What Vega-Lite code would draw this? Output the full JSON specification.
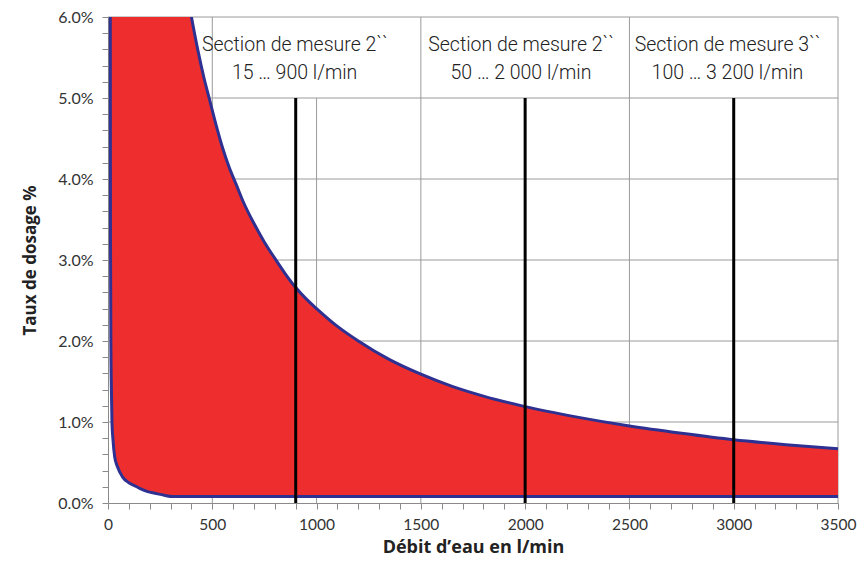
{
  "$schema": "https://vega.github.io/schema/vega-lite/v6.json",
  "width": 730,
  "height": 486,
  "autosize": {"type": "none"},
  "padding": {"left": 108, "top": 17, "right": 25, "bottom": 78},
  "background": "white",
  "config": {"view": {"stroke": null}, "axis": {"labelOverlap": false, "labelFlush": false}},
  "datasets": {
    "band": [
      {"x": 11, "hi": 6, "lo": 6},
      {"x": 12, "hi": 6, "lo": 3.2},
      {"x": 14, "hi": 6, "lo": 1.9},
      {"x": 16, "hi": 6, "lo": 1.45},
      {"x": 19, "hi": 6, "lo": 1.0},
      {"x": 24, "hi": 6, "lo": 0.78},
      {"x": 32, "hi": 6, "lo": 0.57},
      {"x": 45, "hi": 6, "lo": 0.45},
      {"x": 70, "hi": 6, "lo": 0.32},
      {"x": 100, "hi": 6, "lo": 0.25},
      {"x": 138, "hi": 6, "lo": 0.2},
      {"x": 152, "hi": 6, "lo": 0.18},
      {"x": 190, "hi": 6, "lo": 0.14},
      {"x": 225, "hi": 6, "lo": 0.12},
      {"x": 270, "hi": 6, "lo": 0.095},
      {"x": 310, "hi": 6, "lo": 0.08},
      {"x": 360, "hi": 6, "lo": 0.08},
      {"x": 400, "hi": 6, "lo": 0.08},
      {"x": 430, "hi": 5.6, "lo": 0.08},
      {"x": 460, "hi": 5.25, "lo": 0.08},
      {"x": 490, "hi": 4.95, "lo": 0.08},
      {"x": 520, "hi": 4.65, "lo": 0.08},
      {"x": 550, "hi": 4.38, "lo": 0.08},
      {"x": 580, "hi": 4.15, "lo": 0.08},
      {"x": 615, "hi": 3.93, "lo": 0.08},
      {"x": 650, "hi": 3.71, "lo": 0.08},
      {"x": 700, "hi": 3.45, "lo": 0.08},
      {"x": 750, "hi": 3.22, "lo": 0.08},
      {"x": 800, "hi": 3.02, "lo": 0.08},
      {"x": 850, "hi": 2.83, "lo": 0.08},
      {"x": 900, "hi": 2.66, "lo": 0.08},
      {"x": 950, "hi": 2.52, "lo": 0.08},
      {"x": 1000, "hi": 2.4, "lo": 0.08},
      {"x": 1100, "hi": 2.18, "lo": 0.08},
      {"x": 1200, "hi": 2.0, "lo": 0.08},
      {"x": 1350, "hi": 1.77, "lo": 0.08},
      {"x": 1500, "hi": 1.59, "lo": 0.08},
      {"x": 1650, "hi": 1.44, "lo": 0.08},
      {"x": 1800, "hi": 1.32, "lo": 0.08},
      {"x": 2000, "hi": 1.19, "lo": 0.08},
      {"x": 2250, "hi": 1.06, "lo": 0.08},
      {"x": 2500, "hi": 0.95, "lo": 0.08},
      {"x": 2750, "hi": 0.86, "lo": 0.08},
      {"x": 3000, "hi": 0.78, "lo": 0.08},
      {"x": 3250, "hi": 0.72, "lo": 0.08},
      {"x": 3500, "hi": 0.67, "lo": 0.08}
    ],
    "vgrid": [
      {"gx": 500, "bottom": 0, "top": 6},
      {"gx": 1000, "bottom": 0, "top": 5},
      {"gx": 1500, "bottom": 0, "top": 6},
      {"gx": 2000, "bottom": 0, "top": 5},
      {"gx": 2500, "bottom": 0, "top": 6},
      {"gx": 3000, "bottom": 0, "top": 5},
      {"gx": 3500, "bottom": 0, "top": 6}
    ],
    "hgrid": [
      {"gy": 1, "left": 0, "right": 3500},
      {"gy": 2, "left": 0, "right": 3500},
      {"gy": 3, "left": 0, "right": 3500},
      {"gy": 4, "left": 0, "right": 3500},
      {"gy": 5, "left": 0, "right": 3500},
      {"gy": 6, "left": 0, "right": 3500}
    ],
    "marks": [
      {"v": 900, "from": 0, "to": 5},
      {"v": 2000, "from": 0, "to": 5},
      {"v": 3000, "from": 0, "to": 5}
    ],
    "labels": [
      {"tx": 895, "ty": 5.65, "label": "Section de mesure 2``"},
      {"tx": 895, "ty": 5.31, "label": "15 … 900 l/min"},
      {"tx": 1980, "ty": 5.65, "label": "Section de mesure 2``"},
      {"tx": 1980, "ty": 5.31, "label": "50 … 2 000 l/min"},
      {"tx": 2970, "ty": 5.65, "label": "Section de mesure 3``"},
      {"tx": 2970, "ty": 5.31, "label": "100 … 3 200 l/min"}
    ]
  },
  "layer": [
    {
      "data": {"name": "vgrid"},
      "mark": {"type": "rule", "color": "#9a9a9a", "strokeWidth": 1},
      "encoding": {
        "x": {"field": "gx", "type": "quantitative", "scale": {"domain": [0, 3500], "nice": false},
          "axis": {
            "values": [0,100,200,300,400,500,600,700,800,900,1000,1100,1200,1300,1400,1500,1600,1700,1800,1900,2000,2100,2200,2300,2400,2500,2600,2700,2800,2900,3000,3100,3200,3300,3400,3500],
            "tickCount": 200,
            "labelExpr": "datum.value % 500 === 0 ? format(datum.value, 'd') : ''",
            "grid": false, "labelOverlap": false,
            "labelFont": "Lato", "labelFontSize": 15.5, "labelColor": "#333333", "labelPadding": 8,
            "tickSize": 6, "tickColor": "#8a8a8a", "domainColor": "#8a8a8a",
            "title": "Débit d’eau en l/min", "titleFont": "Open Sans", "titleFontWeight": "bold", "titleFontSize": 18, "titleColor": "#222222", "titlePadding": 6
          }},
        "y": {"field": "bottom", "type": "quantitative", "scale": {"domain": [0, 6], "nice": false},
          "axis": {
            "values": [0,0.2,0.4,0.6,0.8,1,1.2,1.4,1.6,1.8,2,2.2,2.4,2.6,2.8,3,3.2,3.4,3.6,3.8,4,4.2,4.4,4.6,4.8,5,5.2,5.4,5.6,5.8,6],
            "tickCount": 200,
            "labelExpr": "datum.value % 1 === 0 ? format(datum.value, '.1f') + '%' : ''",
            "grid": false, "labelOverlap": false,
            "labelFont": "Lato", "labelFontSize": 16, "labelColor": "#333333", "labelPadding": 9,
            "tickSize": 6, "tickColor": "#8a8a8a", "domainColor": "#8a8a8a",
            "title": "Taux de dosage %", "titleFont": "Open Sans", "titleFontWeight": "bold", "titleFontSize": 17, "titleColor": "#222222", "titlePadding": 18
          }},
        "y2": {"field": "top"}
      }
    },
    {
      "data": {"name": "hgrid"},
      "mark": {"type": "rule", "color": "#9a9a9a", "strokeWidth": 1},
      "encoding": {
        "y": {"field": "gy", "type": "quantitative"},
        "x": {"field": "left", "type": "quantitative"},
        "x2": {"field": "right"}
      }
    },
    {
      "data": {"name": "band"},
      "mark": {"type": "area", "color": "#ee2e2e", "opacity": 1, "clip": true, "interpolate": "monotone"},
      "encoding": {
        "x": {"field": "x", "type": "quantitative"},
        "y": {"field": "hi", "type": "quantitative"},
        "y2": {"field": "lo"}
      }
    },
    {
      "data": {"name": "band"},
      "mark": {"type": "line", "color": "#2e3192", "strokeWidth": 3, "clip": true, "interpolate": "monotone"},
      "encoding": {
        "x": {"field": "x", "type": "quantitative"},
        "y": {"field": "lo", "type": "quantitative"}
      }
    },
    {
      "data": {"name": "band"},
      "transform": [{"filter": "datum.x >= 400"}],
      "mark": {"type": "line", "color": "#2e3192", "strokeWidth": 3, "clip": true, "interpolate": "monotone"},
      "encoding": {
        "x": {"field": "x", "type": "quantitative"},
        "y": {"field": "hi", "type": "quantitative"}
      }
    },
    {
      "data": {"name": "marks"},
      "mark": {"type": "rule", "color": "#000000", "strokeWidth": 3},
      "encoding": {
        "x": {"field": "v", "type": "quantitative"},
        "y": {"field": "from", "type": "quantitative"},
        "y2": {"field": "to"}
      }
    },
    {
      "data": {"name": "labels"},
      "mark": {"type": "text", "font": "Roboto", "fontSize": 19.5, "fontWeight": 300, "color": "#222222", "align": "center", "baseline": "middle"},
      "encoding": {
        "x": {"field": "tx", "type": "quantitative"},
        "y": {"field": "ty", "type": "quantitative"},
        "text": {"field": "label"}
      }
    }
  ]
}
